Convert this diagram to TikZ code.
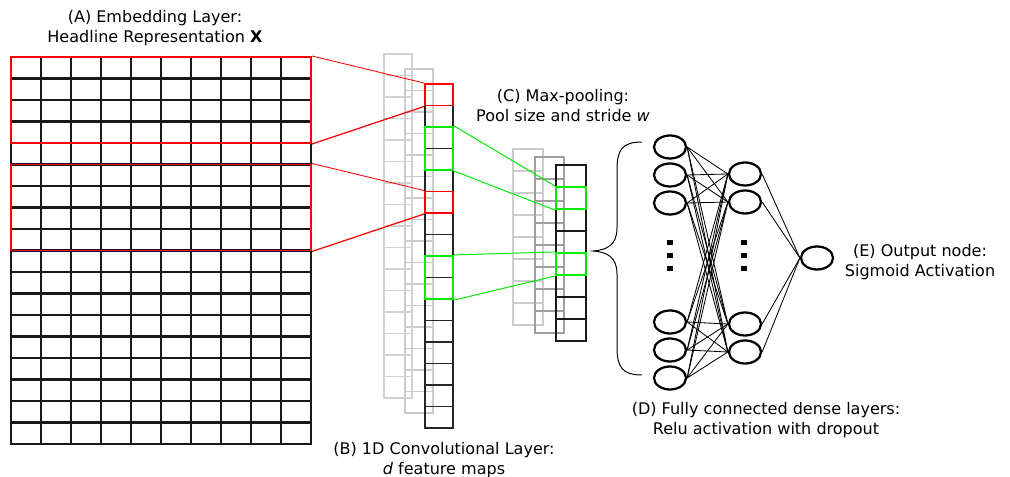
\documentclass[tikz,border=0pt]{standalone}
\usepackage{fontspec}
\setmainfont{DejaVu Sans}
\usepackage{tikz}
\usetikzlibrary{shapes.geometric}
\definecolor{hlred}{RGB}{255,0,0}
\definecolor{hlgreen}{RGB}{0,235,0}

\tikzset{
  gridline/.style={draw=black!90, line width=1.6pt, line cap=rect},
  cell/.style={draw=black!85, line width=1.4pt, minimum width=0.7cm, minimum height=0.5375cm, inner sep=0pt},
  poolcell/.style={draw=black!90, line width=1.5pt, minimum width=0.75cm, minimum height=0.55cm, inner sep=0pt},
  redcell/.style={draw=hlred, line width=1.4pt, inner sep=0pt},
  greencell/.style={draw=hlgreen, line width=1.5pt, inner sep=0pt},
  neuron/.style={ellipse, draw=black, line width=1.6pt, minimum width=0.8cm, minimum height=0.575cm, inner sep=0pt},
  link/.style={line width=0.6pt},
  caption/.style={align=center, font=\fontsize{11.4}{14.2}\selectfont, inner sep=0pt}
}

\begin{document}
\begin{tikzpicture}[x=0.025cm,y=-0.025cm]
\useasboundingbox (0,0) rectangle (1010,477);
%embedding matrix
\foreach \i in {0,...,10} \draw[gridline] (11+30*\i,57) -- (11+30*\i,444);
\foreach \j in {0,...,18} \draw[gridline] (11,57+21.5*\j) -- (311,57+21.5*\j);
%filter windows
\node[redcell, minimum width=7.5cm, minimum height=2.15cm] (win1) at (161,100) {};
\node[redcell, minimum width=7.5cm, minimum height=2.15cm] (win2) at (161,207.5) {};
\node[caption] (capA) at (155,28) {(A) Embedding Layer:\\Headline Representation \textbf{X}};

%convolution, back maps
\foreach \i in {0,...,15} \draw[gray!35, line width=1.2pt] (384,54+21.5*\i) rectangle (412,75.5+21.5*\i);
\foreach \i in {0,...,15} \draw[gray!40, line width=1.2pt] (405,69+21.5*\i) rectangle (433,90.5+21.5*\i);
%convolution, front map
\foreach \i in {0,...,15} \node[cell] (c\i) at (439,94.75+21.5*\i) {};
\node[redcell, minimum width=0.7cm, minimum height=0.5375cm] (conv1) at (c0) {};
\node[redcell, minimum width=0.7cm, minimum height=0.5375cm] (conv2) at (c5) {};
\node[greencell, minimum width=0.7cm, minimum height=1.075cm] (pair1) at (439,148.5) {};
\node[greencell, minimum width=0.7cm, minimum height=1.075cm] (pair2) at (439,277.5) {};
\node[caption] (capB) at (444,460) {(B) 1D Convolutional Layer:\\\textit{d} feature maps};

%red links
\draw[hlred, line width=0.6pt] (win1.north east) -- (conv1.north west);
\draw[hlred, line width=0.9pt] (win1.south east) -- (conv1.south west);
\draw[hlred, line width=0.6pt] (win2.north east) -- (conv2.north west);
\draw[hlred, line width=0.9pt] (win2.south east) -- (conv2.south west);

%max-pooling, back maps
\foreach \i in {0,...,7} \draw[gray!40, line width=1.3pt] (513,149+22*\i) rectangle (543,171+22*\i);
\foreach \i in {0,...,7} \draw[gray!75, line width=1.3pt] (535,157+22*\i) rectangle (564,179+22*\i);
%max-pooling, front map
\foreach \i in {0,...,7} \node[poolcell] (p\i) at (571,176+22*\i) {};
\node[greencell, minimum width=0.75cm, minimum height=0.55cm] (max1) at (p1) {};
\node[greencell, minimum width=0.75cm, minimum height=0.55cm] (max2) at (p4) {};
\node[caption] (capC) at (563,106) {(C) Max-pooling:\\Pool size and stride \textit{w}};

%green links
\draw[hlgreen, line width=0.7pt] (pair1.north east) -- (max1.north west);
\draw[hlgreen, line width=0.7pt] (pair1.south east) -- (max1.south west);
\draw[hlgreen, line width=0.7pt] (pair2.north east) -- (max2.north west);
\draw[hlgreen, line width=0.7pt] (pair2.south east) -- (max2.south west);

%brace
\draw[line width=0.7pt] (642,142) .. controls (622,142) and (617,150) .. (617,170) -- (617,228)
  .. controls (617,245) and (607,250) .. (593,251) .. controls (607,252) and (617,257) .. (617,274)
  -- (617,347) .. controls (617,367) and (622,375) .. (642,375);

%dense layers
\foreach \y [count=\k] in {147,175,203,322,350,378} \node[neuron] (n\k) at (670,\y) {};
\foreach \y [count=\k] in {174,202,324,352} \node[neuron] (h\k) at (745,\y) {};
\node[neuron] (out) at (817,258) {};
\foreach \a in {1,...,6} \foreach \b in {1,...,4} \draw[link] (n\a.east) -- (h\b.west);
\foreach \b in {1,...,4} \draw[link] (h\b.east) -- (out.west);
%dots
\foreach \y in {243,256,269} {
  \fill (667,\y-2.5) rectangle (673,\y+2.5);
  \fill (741,\y-2.5) rectangle (747,\y+2.5);
}
\node[caption] (capD) at (766,420) {(D) Fully connected dense layers:\\Relu activation with dropout};
\node[caption] (capE) at (920,262) {(E) Output node:\\Sigmoid Activation};
\end{tikzpicture}
\end{document}
